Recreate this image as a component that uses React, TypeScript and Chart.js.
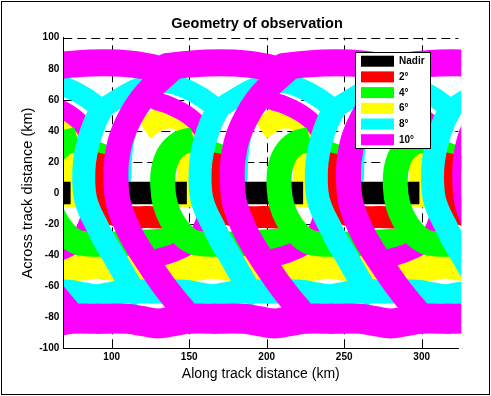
import { useEffect, useRef } from 'react';
import { Chart, registerables } from 'chart.js';

Chart.register(...registerables);

type Pt = [number, number];

// ---------- axes / legend ----------
const xTickValues = [100, 150, 200, 250, 300];
const yTickValues = [-100, -80, -60, -40, -20, 0, 20, 40, 60, 80, 100];
const xRange: Pt = [68.8, 323.6];
const yRange: Pt = [-100, 100];
const legendLabels = ['Nadir', '2°', '4°', '6°', '8°', '10°'];
const legendColors = ['#000000', '#ff0000', '#00ff00', '#ffff00', '#00ffff', '#ff00ff'];

// along-track offsets (km) of the successive scans, relative to the scan listed below
const scanShifts = [-225, -150, -75, 0, 75, 150];

// ---------- footprint tracks of one scan (km: along, across) ----------
const nadirTrack: Pt[] = [[180, 0], [223.5, 0]];

const ring2Track: Pt[] = [
  [171, 25], [168.5, 14], [168, 3], [170, -7], [175.5, -13.5], [186, -15.5], [198, -15.5], [213, -16],
];

const ring4Cap: Pt[] = [[166.5, 29], [172, 27]];
const ring4Track: Pt[] = [
  [228, 34.5], [219, 32], [212, 25], [208.5, 15], [208, 4], [209.5, -7], [213.5, -17],
  [219.5, -25.5], [227.5, -31.5], [240, -33], [260, -32.5], [282, -31], [300, -30.5],
];

const ring6Track: Pt[] = [
  [196, 41], [206, 47.5], [214, 48.5], [221, 46], [224.5, 38], [225, 26], [224.2, 12], [223.3, 0], [222.5, -9],
];
const ring6Band: Pt[] = [
  [200, -48.5], [222, -48.5], [232, -47.5], [240, -46.3], [248, -47.5], [258, -48.5], [278, -48.5],
];

const ring8Stem: Pt[] = [
  [168.5, 54], [164, 45], [160, 33], [157.5, 20], [157, 8], [158, -3], [161, -12], [165.5, -21],
  [170.5, -31], [176.5, -41], [182.5, -51.5], [188.5, -61.5], [195, -68.5],
];
const ring8Arch: Pt[] = [
  [168.5, 54], [179.5, 61], [191.5, 67.5], [203.5, 71], [212.5, 70.5], [222, 67.5], [232.5, 62], [243.5, 54],
];
const ring8Edge: Pt[] = [[196, 62], [188, 48], [184, 35], [182.3, 22], [182, 10]];
const ring8Band: Pt[] = [
  [200, -63.5], [222, -63.5], [232, -65.3], [240, -66.5], [248, -65.3], [258, -63.5], [278, -63.5],
];

const ring10Arc: Pt[] = [
  [213, 79], [203, 70], [194, 60], [186.5, 48], [181, 35], [178.2, 21], [177.8, 8], [179, -5],
  [182.5, -16], [188, -28], [195, -39.5], [202, -50], [209, -60], [216, -69], [222, -76],
];
const ring10Loop: Pt[] = [
  [203, 59.5], [212, 56.5], [222, 51.5], [230, 45], [235.5, 36], [238, 22], [238.5, 6], [237, -10],
  [232.5, -24], [225, -33.5], [215, -38.5], [205, -41.5], [197, -43],
];
const ring10Band: Pt[] = [
  [165, -81], [185, -81], [195, -82.5], [205, -84], [215, -82.5], [225, -81], [243, -81],
];
const ring10Top: Pt[] = [
  [136, 81.5], [150, 83], [170, 83.8], [188, 83], [200, 81], [209, 78.5],
];

// ---------- styles ----------
const C = {
  black: '#000000', red: '#ff0000', green: '#00ff00', yellow: '#ffff00', cyan: '#00ffff', magenta: '#ff00ff',
};
const FONT = '"Liberation Sans", Arial, Helvetica, sans-serif';
const CLIP = { left: 0, top: 0, right: 3, bottom: 0 };

function swath(points: Pt[], shift: number, color: string, width: number, cap: CanvasLineCap = 'butt') {
  return {
    data: points.map(([x, y]) => ({ x: x + shift, y })),
    showLine: true,
    borderColor: color,
    backgroundColor: color,
    borderWidth: width,
    borderCapStyle: cap,
    borderJoinStyle: 'round' as CanvasLineJoin,
    pointRadius: 0,
    pointHoverRadius: 0,
    tension: 0.35,
    fill: false,
    clip: CLIP,
  };
}

// listed back-to-front; Chart.js paints dataset 0 on top, so the list is reversed at the end
function buildDatasets() {
  const ds: any[] = [];
  scanShifts.forEach((s) => ds.push(swath(ring6Band, s, C.yellow, 27)));
  scanShifts.forEach((s) => ds.push(swath(ring8Band, s, C.cyan, 24)));
  scanShifts.forEach((s) => {
    ds.push(swath(ring4Cap, s, C.green, 12, 'round'));
    ds.push(swath(ring2Track, s, C.red, 22));
    ds.push(swath(ring8Stem, s, C.cyan, 23));
    ds.push(swath(ring8Arch, s, C.cyan, 20, 'round'));
    ds.push(swath(ring8Edge, s, C.cyan, 18, 'round'));
    ds.push(swath(ring6Track, s, C.yellow, 22));
    ds.push(swath(ring10Loop, s, C.magenta, 18, 'round'));
    ds.push(swath(nadirTrack, s, C.black, 22.5));
    ds.push(swath(ring4Track, s, C.green, 25));
    ds.push(swath(ring10Arc, s, C.magenta, 25, 'round'));
  });
  scanShifts.forEach((s) => ds.push(swath(ring10Band, s, C.magenta, 30)));
  scanShifts.forEach((s) => ds.push(swath(ring10Top, s, C.magenta, 27, 'round')));
  return ds.reverse();
}

// grid (dashed, under the data) and inward tick marks
const gridPlugin = {
  id: 'matlabGrid',
  beforeDatasetsDraw(chart: any) {
    const { ctx, chartArea: a, scales } = chart;
    const xs = scales.x, ys = scales.y;
    ctx.save();
    ctx.strokeStyle = '#000';
    ctx.lineWidth = 1;
    ctx.setLineDash([9, 5]);
    xTickValues.forEach((v) => {
      const px = Math.round(xs.getPixelForValue(v)) + 0.5;
      ctx.beginPath(); ctx.moveTo(px, a.bottom); ctx.lineTo(px, a.top); ctx.stroke();
    });
    yTickValues.forEach((v) => {
      const py = Math.round(ys.getPixelForValue(v)) + 0.5;
      ctx.beginPath(); ctx.moveTo(a.left, py); ctx.lineTo(a.right, py); ctx.stroke();
    });
    ctx.setLineDash([]);
    xTickValues.forEach((v) => {
      const px = Math.round(xs.getPixelForValue(v)) + 0.5;
      ctx.beginPath(); ctx.moveTo(px, a.bottom); ctx.lineTo(px, a.bottom - 5); ctx.stroke();
    });
    yTickValues.forEach((v) => {
      const py = Math.round(ys.getPixelForValue(v)) + 0.5;
      ctx.beginPath(); ctx.moveTo(a.left, py); ctx.lineTo(a.left + 5, py); ctx.stroke();
    });
    ctx.restore();
  },
  afterDraw(chart: any) {
    const { ctx } = chart;
    ctx.save();
    ctx.fillStyle = '#000';
    ctx.font = `bold 14.5px ${FONT}`;
    ctx.textAlign = 'center';
    ctx.textBaseline = 'middle';
    ctx.fillText('Geometry of observation', 257, 24);
    const bx = 355.5, by = 52.5, bw = 75, bh = 96;
    ctx.fillStyle = '#fff';
    ctx.fillRect(bx, by, bw, bh);
    ctx.strokeStyle = '#000';
    ctx.lineWidth = 1;
    ctx.strokeRect(bx, by, bw, bh);
    ctx.font = `bold 10px ${FONT}`;
    ctx.textAlign = 'left';
    legendLabels.forEach((lab, i) => {
      const top = 55.7 + i * 15.7;
      ctx.fillStyle = legendColors[i];
      ctx.fillRect(361, top, 33, 11);
      ctx.fillStyle = '#000';
      ctx.fillText(lab, 399, top + 5.8);
    });
    ctx.strokeRect(1.5, 1.5, 488, 393);
    ctx.restore();
  },
};

export default function App() {
  const ref = useRef<HTMLCanvasElement | null>(null);
  useEffect(() => {
    if (!ref.current) return;
    const chart = new Chart(ref.current, {
      type: 'scatter',
      data: { datasets: buildDatasets() },
      options: {
        responsive: false,
        animation: false,
        events: [],
        layout: { padding: { top: 37.7, right: 32.7, left: 0, bottom: 0 } },
        plugins: { legend: { display: false }, title: { display: false }, tooltip: { enabled: false } },
        scales: {
          x: {
            type: 'linear',
            min: xRange[0],
            max: xRange[1],
            afterBuildTicks: (sc: any) => { sc.ticks = xTickValues.map((v) => ({ value: v })); },
            afterFit: (sc: any) => { sc.height = 47.7; },
            grid: { display: false, drawTicks: false },
            border: { display: true, color: '#000', width: 1, z: 1 },
            ticks: { color: '#000', padding: 3, autoSkip: false, maxRotation: 0, font: { family: FONT, size: 10, weight: 'bold' } },
            title: { display: true, text: 'Along track distance (km)', color: '#000', font: { family: FONT, size: 14 }, padding: { top: 0, bottom: 13.6 } },
          },
          y: {
            type: 'linear',
            min: yRange[0],
            max: yRange[1],
            afterBuildTicks: (sc: any) => { sc.ticks = yTickValues.map((v) => ({ value: v })); },
            afterFit: (sc: any) => { sc.width = 63.3; },
            grid: { display: false, drawTicks: false },
            border: { display: true, color: '#000', width: 1, z: 1 },
            ticks: { color: '#000', padding: 4, autoSkip: false, font: { family: FONT, size: 10, weight: 'bold' } },
            title: { display: true, text: 'Across track distance (km)', color: '#000', font: { family: FONT, size: 14.5 }, padding: { top: 19.3, bottom: 0 } },
          },
        },
      } as any,
      plugins: [gridPlugin],
    });
    return () => chart.destroy();
  }, []);
  return (
    <div style={{ position: 'fixed', left: 0, top: 0, width: 491, height: 396, background: '#fff' }}>
      <canvas ref={ref} width={491} height={396} style={{ display: 'block', width: 491, height: 396 }} />
    </div>
  );
}
